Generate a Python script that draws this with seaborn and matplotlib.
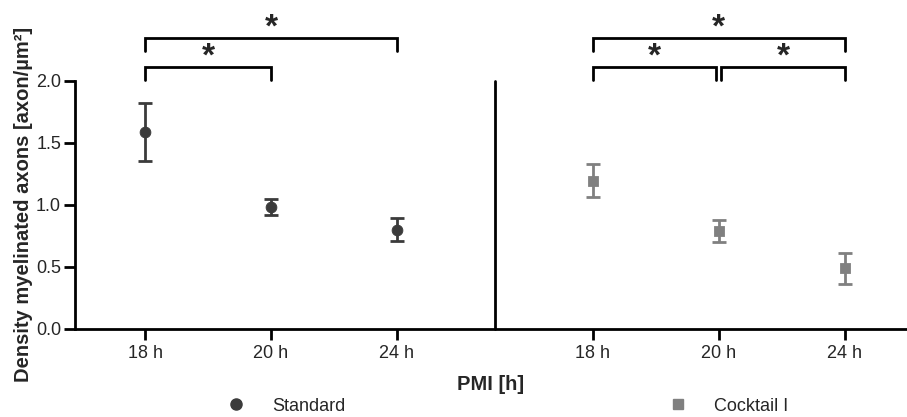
import numpy as np
import matplotlib
matplotlib.use("Agg")
import matplotlib.pyplot as plt
import seaborn as sns
from matplotlib.lines import Line2D

# data
pmi = ["18 h", "20 h", "24 h"]
standard_mean = [1.59, 0.985, 0.80]
standard_err = [0.235, 0.065, 0.09]
cocktail_mean = [1.195, 0.79, 0.487]
cocktail_err = [0.135, 0.09, 0.125]

std_col = "#3b3b3b"
ckt_col = "#808080"

sns.set_style("ticks")
plt.rcParams["font.family"] = ["Liberation Sans", "DejaVu Sans"]

fig = plt.figure(figsize=(9.07, 4.17), dpi=100)
ax = fig.add_axes([0.0827, 0.212, 0.917, 0.594])

x_std = np.arange(3)
gap = 3.556  # cocktail group sits to the right of the separator
x_ckt = x_std + gap
sep = 2.778

ax.errorbar(x_std, standard_mean, yerr=standard_err, fmt="none",
            ecolor=std_col, elinewidth=2, capsize=5, capthick=2)
ax.errorbar(x_ckt, cocktail_mean, yerr=cocktail_err, fmt="none",
            ecolor=ckt_col, elinewidth=2, capsize=5, capthick=2)
sns.scatterplot(x=x_std, y=standard_mean, ax=ax, color=std_col,
                marker="o", s=60, edgecolor=std_col, zorder=3)
sns.scatterplot(x=x_ckt, y=cocktail_mean, ax=ax, color=ckt_col,
                marker="s", s=55, edgecolor=ckt_col, zorder=3)

ax.plot([sep, sep], [0, 2.0], color="black", lw=2, clip_on=False)

ax.set_xlim(-0.556, 6.048)
ax.set_ylim(0, 2.0)
ax.set_yticks([0.0, 0.5, 1.0, 1.5, 2.0])
ax.set_yticklabels(["0.0", "0.5", "1.0", "1.5", "2.0"])
ax.set_xticks(list(x_std) + list(x_ckt))
ax.set_xticklabels(pmi + pmi)
ax.tick_params(axis="both", labelsize=13, width=2, length=8, color="black")
ax.tick_params(axis="y", pad=2)
for s in ["left", "bottom"]:
    ax.spines[s].set_linewidth(2)
    ax.spines[s].set_color("black")
sns.despine(ax=ax)

ax.set_xlabel("PMI [h]", fontsize=14.5, fontweight="bold", labelpad=10)
ax.set_ylabel("Density myelinated axons [axon/µm²]", fontsize=14.5,
              fontweight="bold", labelpad=2)


def bracket(x0, x1, y, h, star_y):
    ax.plot([x0, x0, x1, x1], [y - h, y, y, y - h], color="black", lw=2,
            clip_on=False, solid_joinstyle="miter")
    ax.text((x0 + x1) / 2, star_y, "*", ha="center", va="center",
            fontsize=24, fontweight="bold", clip_on=False)


bracket(x_std[0], x_std[1], 2.113, 0.105, 2.19)
bracket(x_std[0], x_std[2], 2.35, 0.105, 2.43)
bracket(x_ckt[0], x_ckt[1] - 0.02, 2.113, 0.105, 2.19)
bracket(x_ckt[1] + 0.02, x_ckt[2], 2.113, 0.105, 2.19)
bracket(x_ckt[0], x_ckt[2], 2.35, 0.105, 2.43)

handles = [
    Line2D([], [], marker="o", color=std_col, ls="none", markersize=8),
    Line2D([], [], marker="s", color=ckt_col, ls="none", markersize=7),
]
fig.legend(handles, ["Standard", "Cocktail I"], loc="center",
           bbox_to_anchor=(0.5545, 0.026), ncol=2, frameon=False,
           fontsize=13, columnspacing=17.4, handletextpad=1.0)

fig.savefig("out.png", dpi=100)
